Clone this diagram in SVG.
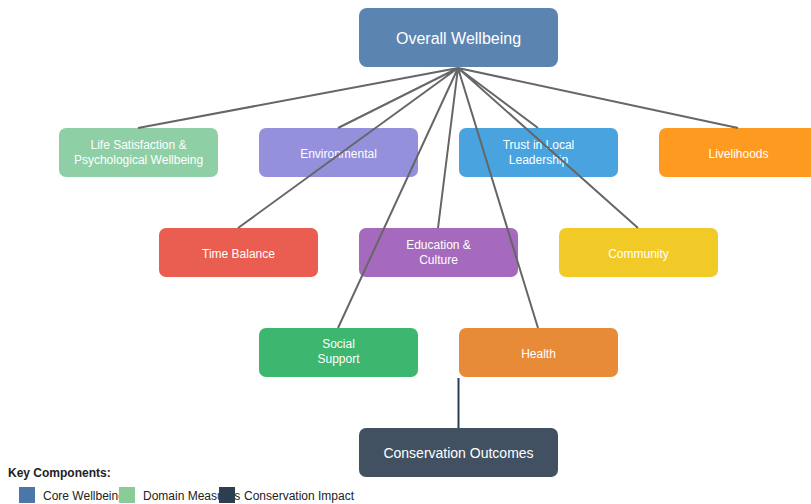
<svg xmlns="http://www.w3.org/2000/svg" width="811" height="504" viewBox="0 0 811 504">
<style>
.box{stroke:none}
.lbl{font-family:"Liberation Sans",Arial,sans-serif;font-size:12px;fill:#fff;text-anchor:middle}
.big{font-size:16px}
.mid{font-size:14px}
.edge{stroke:#666;stroke-width:2;fill:none}
.leg{font-family:"Liberation Sans",Arial,sans-serif;font-size:12px;fill:#222}
</style>
<rect width="811" height="504" fill="#fff"/>
<g id="nodes">
<g id="overall"><rect class="box" x="359" y="8" width="199" height="59" rx="8" fill="#5c84b1"/><text class="lbl big" x="458.5" y="43.5">Overall Wellbeing</text></g>
<g id="lifesat"><rect class="box" x="59" y="128" width="159" height="49" rx="7" fill="#8ecfa6"/><text class="lbl" x="138.5" y="149">Life Satisfaction &amp;</text><text class="lbl" x="138.5" y="164">Psychological Wellbeing</text></g>
<g id="environmental"><rect class="box" x="259" y="128" width="159" height="49" rx="7" fill="#9490dc"/><text class="lbl" x="338.5" y="157.5">Environmental</text></g>
<g id="trust"><rect class="box" x="459" y="128" width="159" height="49" rx="7" fill="#48a3df"/><text class="lbl" x="538.5" y="149">Trust in Local</text><text class="lbl" x="538.5" y="164">Leadership</text></g>
<g id="livelihoods"><rect class="box" x="659" y="128" width="159" height="49" rx="7" fill="#fe9a20"/><text class="lbl" x="738.5" y="157.5">Livelihoods</text></g>
<g id="timebalance"><rect class="box" x="159" y="228" width="159" height="49" rx="7" fill="#e95e50"/><text class="lbl" x="238.5" y="257.5">Time Balance</text></g>
<g id="education"><rect class="box" x="359" y="228" width="159" height="49" rx="7" fill="#a56abd"/><text class="lbl" x="438.5" y="249">Education &amp;</text><text class="lbl" x="438.5" y="264">Culture</text></g>
<g id="community"><rect class="box" x="559" y="228" width="159" height="49" rx="7" fill="#f2ca27"/><text class="lbl" x="638.5" y="257.5">Community</text></g>
<g id="social"><rect class="box" x="259" y="328" width="159" height="49" rx="7" fill="#3db670"/><text class="lbl" x="338.5" y="347.5">Social</text><text class="lbl" x="338.5" y="362.5">Support</text></g>
<g id="health"><rect class="box" x="459" y="328" width="159" height="49" rx="7" fill="#e88b38"/><text class="lbl" x="538.5" y="357.5">Health</text></g>
<g id="conservation"><rect class="box" x="359" y="428" width="199" height="49" rx="7" fill="#415161"/><text class="lbl mid" x="458.5" y="457.5">Conservation Outcomes</text></g>
</g>
<g id="connectors">
<path class="edge" d="M458 68L138 128M458 68L338 128M458 68L538 128M458 68L738 128M458 68L238 228M458 68L438 228M458 68L638 228M458 68L338 328M458 68L538 328"/>
<path d="M458.5 378V428" stroke="#2c3e50" stroke-width="2" fill="none"/>
</g>
<g id="legend">
<text class="leg" x="8" y="477" font-weight="bold">Key Components:</text>
<rect x="19" y="487" width="16" height="16" fill="#4a76a8"/><text class="leg" x="43" y="500">Core Wellbeing</text>
<rect x="119" y="487" width="16" height="16" fill="#88cc99"/><text class="leg" x="143" y="500">Domain Measures</text>
<rect x="219" y="487" width="16" height="16" fill="#2c3e50"/><text class="leg" x="244" y="500">Conservation Impact</text>
</g>
</svg>
